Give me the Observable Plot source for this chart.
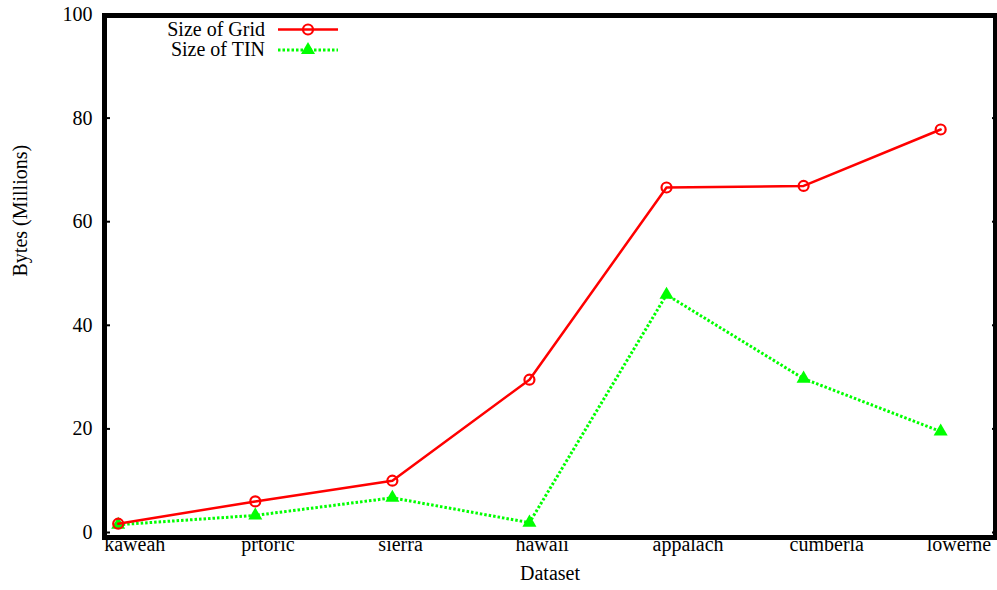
<!DOCTYPE html>
<html>
<head>
<meta charset="utf-8">
<script src="https://cdn.jsdelivr.net/npm/d3@7"></script>
<script src="https://cdn.jsdelivr.net/npm/@observablehq/plot@0.6"></script>
<style>
  html, body { margin: 0; padding: 0; background: #fff; }
  #chart { position: relative; width: 997px; height: 590px; }
</style>
</head>
<body>
<div id="chart"></div>
<script>
const categories = ["kaweah", "prtoric", "sierra", "hawaii", "appalach", "cumberla", "lowerne"];
const gridSize = [1.7, 6.0, 10.0, 29.5, 66.6, 66.9, 77.8];
const tinSize = [1.5, 3.3, 6.7, 1.9, 45.9, 29.7, 19.5];
const yTicks = [0, 20, 40, 60, 80, 100];
const seriesNames = ["Size of Grid", "Size of TIN"];

const gridData = categories.map((c, i) => ({i, c, v: gridSize[i]}));
const tinData = categories.map((c, i) => ({i, c, v: tinSize[i]}));

const FONT = "Liberation Serif, Times New Roman, serif";
const RED = "#ff0000";
const GREEN = "#00ff00";

const chart = Plot.plot({
  width: 997,
  height: 590,
  marginLeft: 104,
  marginRight: 2,
  marginTop: 15,
  marginBottom: 53,
  style: {fontFamily: FONT, fontSize: "20px", color: "#000", background: "#fff"},
  x: {type: "linear", domain: [-0.1, 6.4]},
  y: {domain: [0, 100], range: [532, 14]},
  marks: [
    Plot.axisY(yTicks, {anchor: "left", tickSize: 0, tickPadding: 12, label: null, fontSize: 20}),
    Plot.axisY(yTicks, {anchor: "left", tickSize: -6, text: null, label: null, strokeWidth: 2}),
    Plot.axisY(yTicks, {anchor: "right", tickSize: -4, text: null, label: null, strokeWidth: 2}),
    Plot.axisX(d3.range(categories.length), {
      anchor: "bottom", tickSize: 0, tickPadding: 0, label: null,
      tickFormat: i => categories[i], textAnchor: "start", dx: -14, dy: -1, fontSize: 20
    }),
    Plot.text(["Bytes (Millions)"], {frameAnchor: "left", dx: -84, rotate: -90, fontSize: 20}),
    Plot.text(["Dataset"], {frameAnchor: "bottom", dx: 0, dy: 42, fontSize: 20}),
    Plot.line(tinData, {x: "i", y: "v", stroke: GREEN, strokeWidth: 3, strokeDasharray: "2.5,2", strokeLinecap: "butt"}),
    Plot.dot(tinData, {x: "i", y: "v", symbol: "triangle", r: 5.2, fill: GREEN, stroke: "none"}),
    Plot.line(gridData, {x: "i", y: "v", stroke: RED, strokeWidth: 2.5}),
    Plot.dot(gridData, {x: "i", y: "v", symbol: "circle", r: 5, fill: "none", stroke: RED, strokeWidth: 2.2}),
    Plot.frame({stroke: "#000", strokeWidth: 5})
  ]
});

// Legend (gnuplot-style key at top-left inside the frame)
const svg = d3.select(chart);
const key = svg.append("g").attr("font-family", FONT).attr("font-size", 20);
const keyRows = [
  {name: seriesNames[0], color: RED, dash: null, w: 2.5, sym: "circle"},
  {name: seriesNames[1], color: GREEN, dash: "2.5,2", w: 3, sym: "triangle"}
];
keyRows.forEach((r, k) => {
  const y = 29.5 + k * 20.5;
  key.append("text").attr("x", 265).attr("y", y).attr("dy", "0.3em")
    .attr("text-anchor", "end").attr("fill", "#000").text(r.name);
  key.append("line").attr("x1", 278).attr("x2", 338).attr("y1", y).attr("y2", y)
    .attr("stroke", r.color).attr("stroke-width", r.w)
    .attr("stroke-dasharray", r.dash);
  if (r.sym === "circle") {
    key.append("circle").attr("cx", 308).attr("cy", y).attr("r", 5)
      .attr("fill", "none").attr("stroke", r.color).attr("stroke-width", 2.2);
  } else {
    key.append("path").attr("transform", `translate(308,${y})`)
      .attr("d", d3.symbol(d3.symbolTriangle, Math.PI * 5.2 * 5.2)())
      .attr("fill", r.color);
  }
});

document.getElementById("chart").append(chart);
</script>
</body>
</html>
